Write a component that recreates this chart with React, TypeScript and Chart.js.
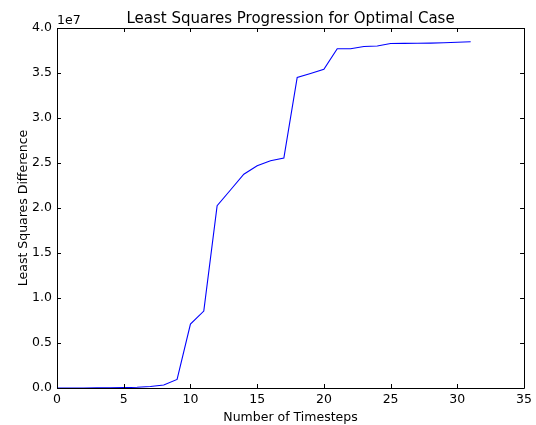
import React, { useEffect, useRef } from "react";
import { Chart, registerables } from "chart.js";
Chart.register(...registerables);

const chartTitle = "Least Squares Progression for Optimal Case";
const xTitle = "Number of Timesteps";
const yTitle = "Least Squares Difference";
const yExponentLabel = "1e7";

const timesteps = [0, 1, 2, 3, 4, 5, 6, 7, 8, 9, 10, 11, 12, 13, 14, 15, 16, 17, 18, 19, 20, 21, 22, 23, 24, 25, 26, 27, 28, 29, 30, 31];
const leastSquares = [
  0, 2000, 8000, 15000, 25000, 40000, 80000, 170000, 330000, 950000,
  7100000, 8550000, 20250000, 22000000, 23750000, 24700000, 25250000, 25550000,
  34500000, 34950000, 35400000, 37700000, 37700000, 37950000, 38000000,
  38270000, 38290000, 38300000, 38320000, 38360000, 38420000, 38480000,
];

const FONT = "'DejaVu Sans', sans-serif";

const framePlugin = {
  id: "frame",
  afterDatasetsDraw(chart: any) {
    const { ctx, chartArea: a, scales } = chart;
    ctx.save();
    ctx.strokeStyle = "#000";
    ctx.lineWidth = 1;
    ctx.beginPath();
    ctx.rect(Math.round(a.left) + 0.5, Math.round(a.top) + 0.5, Math.round(a.right - a.left), Math.round(a.bottom - a.top));
    ctx.stroke();
    const tl = 4;
    ctx.beginPath();
    scales.x.ticks.forEach((t: any) => {
      const px = Math.round(scales.x.getPixelForValue(t.value)) + 0.5;
      ctx.moveTo(px, a.bottom);
      ctx.lineTo(px, a.bottom - tl);
      ctx.moveTo(px, a.top);
      ctx.lineTo(px, a.top + tl);
    });
    scales.y.ticks.forEach((t: any) => {
      const py = Math.round(scales.y.getPixelForValue(t.value)) + 0.5;
      ctx.moveTo(a.left, py);
      ctx.lineTo(a.left + tl, py);
      ctx.moveTo(a.right, py);
      ctx.lineTo(a.right - tl, py);
    });
    ctx.stroke();

    ctx.fillStyle = "#000";
    ctx.font = `15px ${FONT}`;
    ctx.textAlign = "center";
    ctx.textBaseline = "alphabetic";
    ctx.fillText(chartTitle, (a.left + a.right) / 2, 23);

    ctx.font = `12.5px ${FONT}`;
    ctx.textAlign = "left";
    ctx.fillText(yExponentLabel, a.left, a.top - 4);

    ctx.textAlign = "center";
    ctx.fillText(xTitle, (a.left + a.right) / 2, 421);

    ctx.translate(27, (a.top + a.bottom) / 2);
    ctx.rotate(-Math.PI / 2);
    ctx.textBaseline = "alphabetic";
    ctx.fillText(yTitle, 0, 0);
    ctx.restore();
  },
};

export default function App() {
  const ref = useRef<HTMLCanvasElement>(null);
  useEffect(() => {
    if (!ref.current) return;
    const chart = new Chart(ref.current, {
      type: "line",
      data: {
        datasets: [
          {
            data: timesteps.map((x, i) => ({ x, y: leastSquares[i] })),
            borderColor: "#0000ff",
            borderWidth: 1.1,
            pointRadius: 0,
            fill: false,
            tension: 0,
          },
        ],
      },
      options: {
        responsive: false,
        animation: false,
        layout: { padding: { left: 0, right: 11, top: 28, bottom: 0 } },
        plugins: { legend: { display: false }, tooltip: { enabled: false }, title: { display: false } },
        scales: {
          x: {
            type: "linear",
            min: 0,
            max: 35,
            grid: { display: false, drawTicks: false },
            border: { display: false },
            ticks: { stepSize: 5, color: "#000", font: { family: FONT, size: 12.5 }, padding: 4, maxRotation: 0 },
            afterFit: (s: any) => { s.height = 37; },
          },
          y: {
            type: "linear",
            min: 0,
            max: 40000000,
            grid: { display: false, drawTicks: false },
            border: { display: false },
            ticks: {
              stepSize: 5000000,
              color: "#000",
              font: { family: FONT, size: 12.5 },
              padding: 5,
              callback: (v: any) => (Number(v) / 1e7).toFixed(1),
            },
            afterFit: (s: any) => { s.width = 57; },
          },
        },
      },
      plugins: [framePlugin],
    });
    return () => chart.destroy();
  }, []);
  return (
    <div style={{ position: "fixed", left: 0, top: 0, width: 536, height: 425, background: "#fff" }}>
      <canvas ref={ref} width={536} height={425} />
    </div>
  );
}
